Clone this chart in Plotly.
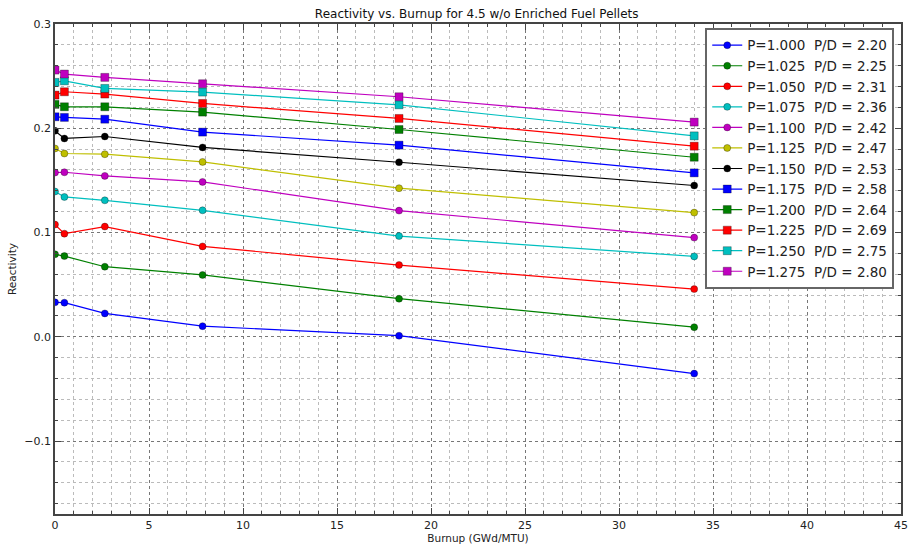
import plotly.graph_objects as go

burnup = [0.0, 0.5, 2.65, 7.85, 18.3, 34.0]

pitches = ["1.000", "1.025", "1.050", "1.075", "1.100", "1.125",
           "1.150", "1.175", "1.200", "1.225", "1.250", "1.275"]
pd_ratios = ["2.20", "2.25", "2.31", "2.36", "2.42", "2.47",
             "2.53", "2.58", "2.64", "2.69", "2.75", "2.80"]

r_1000 = [0.0330, 0.0327, 0.0224, 0.0102, 0.0010, -0.0353]
r_1025 = [0.0791, 0.0774, 0.0672, 0.0593, 0.0365, 0.0092]
r_1050 = [0.1076, 0.0989, 0.1057, 0.0867, 0.0688, 0.0457]
r_1075 = [0.1393, 0.1341, 0.1309, 0.1213, 0.0966, 0.0771]
r_1100 = [0.1575, 0.1578, 0.1543, 0.1485, 0.1210, 0.0951]
r_1125 = [0.1806, 0.1758, 0.1751, 0.1677, 0.1425, 0.1191]
r_1150 = [0.1975, 0.1902, 0.1921, 0.1816, 0.1674, 0.1451]
r_1175 = [0.2110, 0.2104, 0.2087, 0.1963, 0.1838, 0.1572]
r_1200 = [0.2229, 0.2206, 0.2206, 0.2155, 0.1988, 0.1722]
r_1225 = [0.2318, 0.2350, 0.2328, 0.2238, 0.2094, 0.1828]
r_1250 = [0.2440, 0.2455, 0.2382, 0.2347, 0.2225, 0.1927]
r_1275 = [0.2558, 0.2520, 0.2488, 0.2427, 0.2302, 0.2059]

series = [r_1000, r_1025, r_1050, r_1075, r_1100, r_1125,
          r_1150, r_1175, r_1200, r_1225, r_1250, r_1275]

colors = ["#0000ff", "#008000", "#ff0000", "#00bfbf", "#bf00bf", "#bfbf00",
          "#000000", "#0000ff", "#008000", "#ff0000", "#00bfbf", "#bf00bf"]
symbols = ["circle"] * 7 + ["square"] * 5

x_ticks = [0, 5, 10, 15, 20, 25, 30, 35, 40, 45]
y_ticks = [-0.1, 0.0, 0.1, 0.2, 0.3]
y_ticklabels = ["\u22120.1", "0.0", "0.1", "0.2", "0.3"]

fig = go.Figure()
for i, vals in enumerate(series):
    name = f"P={pitches[i]}\u00a0\u00a0P/D = {pd_ratios[i]}"
    fig.add_trace(go.Scatter(
        x=burnup, y=vals, mode="lines+markers", name=name,
        legendgroup=f"g{i}",
        line=dict(color=colors[i], width=1.2),
        marker=dict(symbol=symbols[i], color=colors[i],
                    size=7 if symbols[i] == "circle" else 8,
                    line=dict(color="rgba(0,0,0,0.5)", width=0.6)),
    ))

axis_common = dict(
    showline=True, linecolor="#444", linewidth=1.5, mirror="allticks",
    ticks="inside", ticklen=6, tickcolor="#444",
    showgrid=True, gridcolor="#777", griddash="dot", gridwidth=1,
    zeroline=False, automargin=False,
    tickfont=dict(family="DejaVu Sans", size=11, color="#222"),
)

fig.update_xaxes(
    range=[0, 45], tickvals=x_ticks,
    title=dict(text="Burnup (GWd/MTU)", font=dict(family="DejaVu Sans", size=10.5, color="#222"), standoff=2),
    minor=dict(dtick=1, showgrid=True, gridcolor="#bbb", griddash="dot",
               ticks="inside", ticklen=3, tickcolor="#444"),
    **axis_common,
)
fig.update_yaxes(
    range=[-0.17, 0.3], tickvals=y_ticks, ticktext=y_ticklabels,
    title=dict(text="Reactivity", font=dict(family="DejaVu Sans", size=10.5, color="#222"), standoff=6),
    minor=dict(dtick=0.02, showgrid=True, gridcolor="#bbb", griddash="dot",
               ticks="inside", ticklen=3, tickcolor="#444"),
    **axis_common,
)

fig.update_layout(
    width=908, height=551,
    margin=dict(l=55, r=7, t=24, b=37, autoexpand=False),
    paper_bgcolor="white", plot_bgcolor="white",
    title=dict(text="Reactivity vs. Burnup for 4.5 w/o Enriched Fuel Pellets",
               x=0.525, xanchor="center", y=0.975, yanchor="middle",
               automargin=False,
               font=dict(family="DejaVu Sans", size=12, color="#111")),
    legend=dict(x=0.992, y=0.992, xanchor="right", yanchor="top",
                bgcolor="white", bordercolor="#666", borderwidth=2,
                font=dict(family="DejaVu Sans", size=13.5, color="#222"),
                tracegroupgap=0, itemwidth=30),
    showlegend=True,
)

fig.write_html("out.html", config={"displayModeBar": False},
               post_script="document.body.style.margin='0';")
